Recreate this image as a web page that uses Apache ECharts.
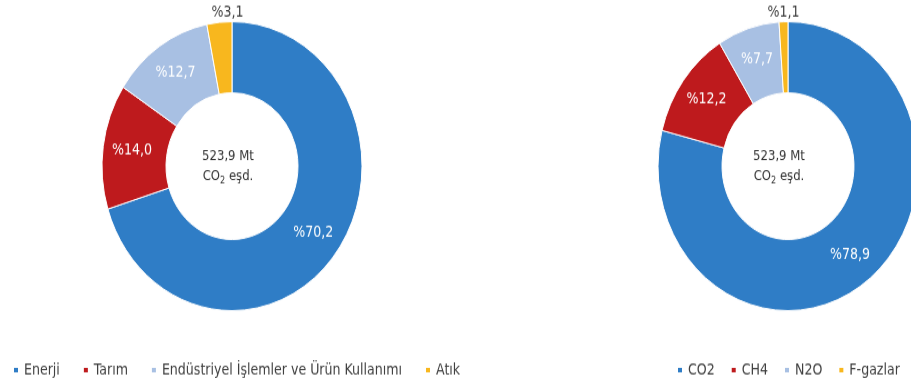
<!DOCTYPE html>
<html>
<head>
<meta charset="utf-8">
<script src="https://cdn.jsdelivr.net/npm/echarts@6/dist/echarts.min.js"></script>
<style>
  html { margin: 0; padding: 0; background: #fff; overflow: hidden; }
  body { margin: 0; padding: 0; background: #fff; width: 911px; height: 389px; }
  /* the chart is drawn slightly squat and stretched vertically to its final height */
  #chart { width: 911px; height: 350px; transform: scaleY(1.1114); transform-origin: 0 0; }
</style>
</head>
<body>
<div id="chart"></div>
<script>
// Emission shares by sector (%)
const sectorNames = ['Enerji', 'Tarım', 'Endüstriyel İşlemler ve Ürün Kullanımı', 'Atık'];
const sectorShares = [70.2, 14.0, 12.7, 3.1];

// Emission shares by gas (%)
const gasNames = ['CO2', 'CH4', 'N2O', 'F-gazlar'];
const gasShares = [78.9, 12.2, 7.7, 1.1];

// Total emissions shown in the middle of each ring
const totalText = '523,9 Mt';
const unitMain = 'CO';
const unitSub = '2';
const unitTail = ' eşd.';

const colors = ['#2F7DC6', '#BE1A1D', '#A8C0E3', '#F8B71E'];
const FONT = '"Liberation Sans Narrow", "Arial Narrow", "DejaVu Sans Condensed", Arial, sans-serif';

const fmtPct = v => '%' + v.toFixed(1).replace('.', ',');

function ringSeries(names, values, center) {
  return {
    type: 'pie',
    center: center,
    radius: [66, 130],
    startAngle: 90,
    clockwise: true,
    avoidLabelOverlap: false,
    silent: true,
    itemStyle: { borderColor: '#ffffff', borderWidth: 1 },
    label: {
      show: true,
      position: 'inside',
      color: '#ffffff',
      fontFamily: FONT,
      fontSize: 14,
      formatter: p => fmtPct(p.value)
    },
    labelLine: { show: false },
    // the thin last slice carries its label just above the ring, near the top
    labelLayout: p => {
      if (p.dataIndex !== values.length - 1) return {};
      return {
        x: p.rect.x + p.rect.width - 5,
        y: p.rect.y - 8,
        align: 'center',
        verticalAlign: 'middle'
      };
    },
    data: names.map((n, i) => ({
      name: n,
      value: values[i],
      itemStyle: { color: colors[i] },
      label: i === values.length - 1 ? { color: '#404040' } : undefined
    }))
  };
}

function centerText(x, y) {
  return {
    type: 'text',
    x: x,
    y: y,
    silent: true,
    style: {
      text: '{a|' + totalText + '}\n{a|' + unitMain + '}{s|' + unitSub + '}{a|' + unitTail + '}',
      align: 'center',
      verticalAlign: 'middle',
      rich: {
        a: { fontFamily: FONT, fontSize: 13, lineHeight: 18, fill: '#333333' },
        s: { fontFamily: FONT, fontSize: 9, lineHeight: 14, fill: '#333333', verticalAlign: 'bottom' }
      }
    }
  };
}

const legendBase = {
  orient: 'horizontal',
  top: 321,
  icon: 'rect',
  itemWidth: 6,
  itemHeight: 6,
  selectedMode: false,
  textStyle: { fontFamily: FONT, fontSize: 14, color: '#404040' }
};

const chart = echarts.init(document.getElementById('chart'), null, { renderer: 'canvas' });
chart.setOption({
  animation: false,
  backgroundColor: '#ffffff',
  legend: [
    Object.assign({}, legendBase, { left: 7, itemGap: 22, data: sectorNames }),
    Object.assign({}, legendBase, { left: 671, right: 0, itemGap: 15, data: gasNames })
  ],
  graphic: [centerText(228, 149.5), centerText(779, 149.5)],
  series: [
    ringSeries(sectorNames, sectorShares, [232, 149.5]),
    ringSeries(gasNames, gasShares, [788, 149.5])
  ]
});
</script>
</body>
</html>
